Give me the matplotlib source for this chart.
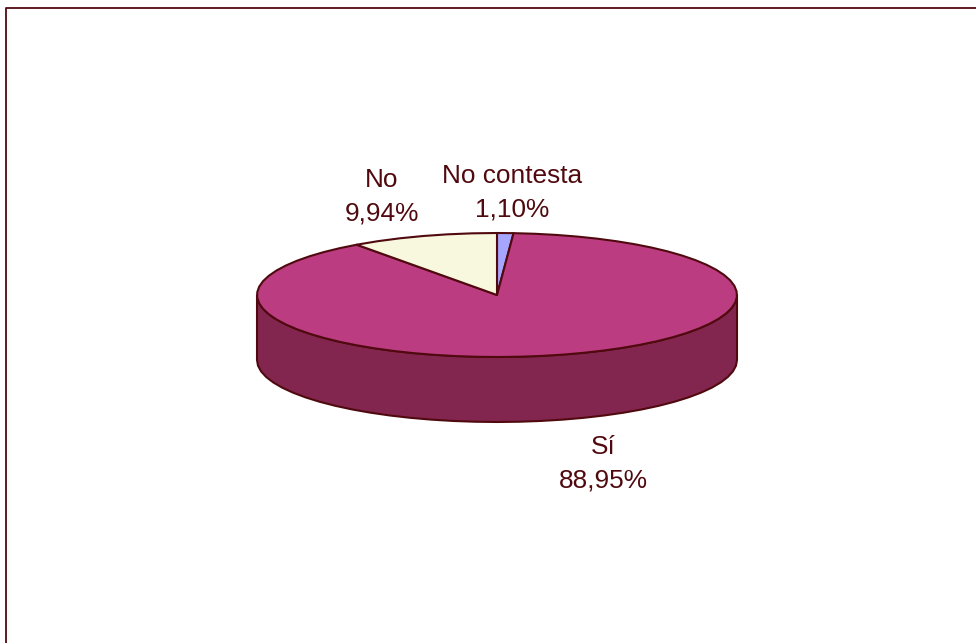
import numpy as np
import matplotlib
matplotlib.use("Agg")
import matplotlib.pyplot as plt

plt.rcParams["font.family"] = ["Liberation Sans", "DejaVu Sans"]

# clockwise from 12 o'clock
labels = ["No contesta", "Sí", "No"]
values = [1.10, 88.95, 9.94]
value_text = ["1,10%", "88,95%", "9,94%"]
top_colors = ["#a6a6ff", "#bc3c82", "#f8f8df"]
side_color = "#83264f"
ink = "#500a0f"

# pie geometry in pixels of the picture
CX, CY, RX, RY, DEPTH = 497, 295, 240, 62, 65
STEP = 0.09  # coarse arc, the outline is faceted in the original


def rim(a0, a1):
    n = max(2, int(abs(a1 - a0) / STEP) + 1)
    a = np.linspace(a0, a1, n)
    return CX + RX * np.sin(a), CY - RY * np.cos(a)


fig = plt.figure(figsize=(9.76, 6.43), dpi=100)
ax = fig.add_axes([0, 0, 1, 1])
ax.set_xlim(0, 976)
ax.set_ylim(643, 0)
ax.axis("off")

# chart frame, only top and left fall inside the picture
ax.plot([5.5, 5.5, 976], [643, 8, 8], color=ink, lw=1.3, solid_capstyle="butt")

# front wall of the disc
x, y = rim(np.pi / 2, 3 * np.pi / 2)
ax.fill(np.r_[x, x[::-1]], np.r_[y, y[::-1] + DEPTH], facecolor=side_color,
        edgecolor=ink, lw=1.5, joinstyle="round", zorder=1)

# top slices
fracs = np.cumsum([0] + values) / np.sum(values) * 2 * np.pi
for i in range(len(values)):
    x, y = rim(fracs[i], fracs[i + 1])
    ax.fill(np.r_[CX, x], np.r_[CY, y], facecolor=top_colors[i], edgecolor=ink,
            lw=1.5, joinstyle="round", zorder=2)

label_pos = [(512, 192.5), (603, 464), (382, 196.5)]
for name, val, (lx, ly) in zip(labels, value_text, label_pos):
    ax.text(lx, ly, f"{name}\n{val}", ha="center", va="center", fontsize=18.9,
            color=ink, linespacing=1.48)

fig.savefig("out.png", dpi=100, facecolor="white")
